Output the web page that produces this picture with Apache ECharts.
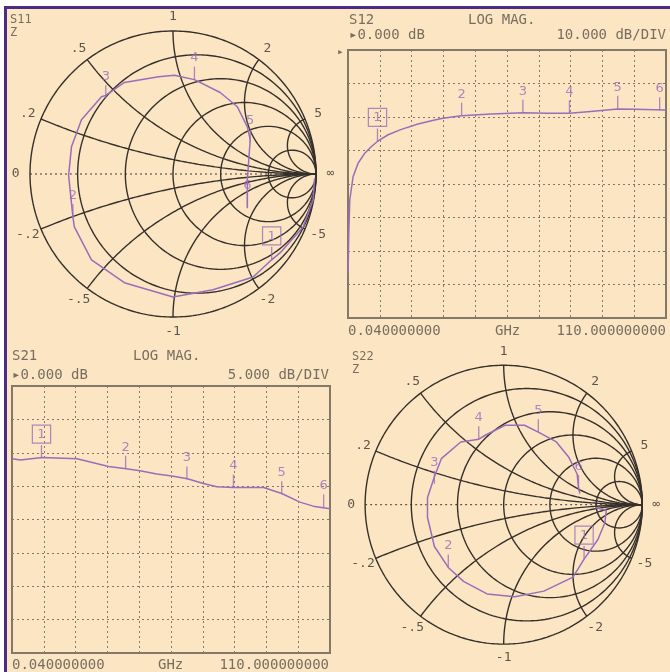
<!DOCTYPE html>
<html>
<head>
<meta charset="utf-8">
<script src="https://cdn.jsdelivr.net/npm/echarts@6/dist/echarts.min.js"></script>
<style>
html, body { margin: 0; padding: 0; background: #fff; }
#chart { width: 670px; height: 672px; }
</style>
</head>
<body>
<div id="chart"></div>
<script>
// sweep 0.04 - 110 GHz, six markers
var markerNames = ['1', '2', '3', '4', '5', '6'];
var markerFreq = [10.2, 39.3, 60.5, 76.6, 93.3, 107.8];

// S12 log mag, 10 dB/div, ref 0 dB at top line
var s12Freq = [0.04, 0.27, 0.62, 1.77, 3.49, 5.80, 8.10, 10.17, 13.86, 18.46, 24.22, 29.98, 32.86, 39.19, 49.55, 60.49, 69.13, 76.61, 82.94, 93.30, 99.06, 110];
var s12Db = [-66.6, -54.7, -44.7, -37.8, -33.8, -30.8, -28.8, -27.3, -25.3, -23.7, -22.1, -20.9, -20.4, -19.6, -19.1, -18.7, -18.9, -18.9, -18.4, -17.6, -17.7, -17.9];
var s12MarkDb = [-27.3, -19.6, -18.7, -18.9, -17.5, -18.0];

// S21 log mag, 5 dB/div, ref 0 dB at centre line
var s21Freq = [0.04, 2.9, 10.4, 22.5, 33.4, 39.5, 44.3, 50.1, 55.3, 60.7, 66.2, 70.8, 76.6, 87.0, 93.3, 99.6, 104.2, 110];
var s21Db = [9.1, 8.9, 9.3, 9.1, 7.95, 7.6, 7.3, 6.8, 6.5, 6.1, 5.4, 4.9, 4.8, 4.8, 3.9, 2.6, 2.0, 1.6];
var s21MarkDb = [9.2, 7.6, 6.0, 4.8, 3.8, 1.8];

var s11Re = [0.99, 0.98, 0.91, 0.75, 0.69, 0.56, 0.28, 0.00, -0.34, -0.57, -0.69, -0.70, -0.73, -0.71, -0.64, -0.50, -0.47, -0.34, -0.10, 0.01, 0.15, 0.33, 0.45, 0.52, 0.54, 0.53, 0.52, 0.52];
var s11Im = [-0.03, -0.18, -0.37, -0.55, -0.60, -0.72, -0.81, -0.86, -0.76, -0.60, -0.37, -0.30, -0.01, 0.19, 0.38, 0.54, 0.55, 0.64, 0.68, 0.69, 0.66, 0.57, 0.47, 0.33, 0.24, 0.10, -0.04, -0.24];
var s11MarkRe = [0.69, -0.70, -0.47, 0.15, 0.54, 0.52];
var s11MarkIm = [-0.60, -0.30, 0.53, 0.66, 0.22, -0.23];

var s22Re = [0.66, 0.74, 0.73, 0.68, 0.58, 0.50, 0.29, 0.08, -0.12, -0.29, -0.40, -0.50, -0.55, -0.55, -0.50, -0.45, -0.31, -0.18, -0.13, 0.01, 0.15, 0.25, 0.38, 0.47, 0.53, 0.54, 0.55];
var s22Im = [-0.02, -0.04, -0.13, -0.25, -0.39, -0.52, -0.62, -0.66, -0.64, -0.55, -0.45, -0.30, -0.09, 0.05, 0.20, 0.33, 0.45, 0.47, 0.50, 0.57, 0.57, 0.52, 0.45, 0.34, 0.22, 0.12, 0.08];
var s22MarkRe = [0.58, -0.40, -0.50, -0.18, 0.25, 0.54];
var s22MarkIm = [-0.39, -0.45, 0.15, 0.47, 0.52, 0.12];

// smith graticule: resistance circles, reactance arcs, labels
var smithR = [0, 0.2, 0.5, 1, 2, 5];
var smithX = [0, 0.2, 0.5, 1, 2, 5, -0.2, -0.5, -1, -2, -5];
var smithLabelX = [0, 0.2, 0.5, 1, 2, 5, -0.2, -0.5, -1, -2, -5];
var smithLabelText = ['0', '.2', '.5', '1', '2', '5', '-.2', '-.5', '-1', '-2', '-5'];

var BG = '#fce5c2';
var TRACE = '#9a6dbb';
var SMITH_LINE = '#35302b';
var GRID_LINE = '#857965';
var TEXT = '#786e60';
var MONO = '"DejaVu Sans Mono", monospace';

var myChart = echarts.init(document.getElementById('chart'));

function gamma(r, x) {
    var d = (r + 1) * (r + 1) + x * x;
    return [(r * r - 1 + x * x) / d, 2 * x / d];
}

function zip(a, b) {
    return a.map(function (v, i) { return [v, b[i]]; });
}

function gridLine(idx, pts, dotted) {
    return {
        type: 'line',
        xAxisIndex: idx, yAxisIndex: idx,
        data: pts,
        symbol: 'none',
        silent: true,
        z: 1,
        lineStyle: {color: SMITH_LINE, width: dotted ? 1 : 1.4, type: dotted ? [2, 3] : 'solid'}
    };
}

function smithSeries(idx) {
    var list = [];
    smithR.forEach(function (r) {
        var pts = [];
        for (var i = 0; i <= 360; i++) {
            var t = -Math.PI / 2 + Math.PI * i / 360;
            pts.push(gamma(r, (r + 1) * Math.tan(t)));
        }
        list.push(gridLine(idx, pts, false));
    });
    smithX.forEach(function (x) {
        var pts = [];
        for (var i = 0; i <= 300; i++) {
            pts.push(gamma(Math.tan(Math.PI / 2 * i / 300), x));
        }
        list.push(gridLine(idx, pts, x === 0));
    });
    // labels sit just outside the outer circle
    var labels = smithLabelX.map(function (x, i) {
        var g = gamma(0, x);
        return {value: [g[0] * 1.1, g[1] * 1.1], name: smithLabelText[i]};
    });
    labels.push({value: [1.1, 0], name: '∞'});
    list.push({
        type: 'scatter',
        xAxisIndex: idx, yAxisIndex: idx,
        data: labels,
        symbolSize: 0,
        silent: true,
        clip: false,
        label: {show: true, position: 'inside', formatter: '{b}', color: '#35312c', fontSize: 13, fontFamily: MONO}
    });
    return list;
}

function traceSeries(idx, pts) {
    return {
        type: 'line',
        xAxisIndex: idx, yAxisIndex: idx,
        data: pts,
        symbol: 'none',
        z: 3,
        lineStyle: {color: TRACE, width: 1.5}
    };
}

function markerSeries(idx, pts) {
    var data = pts.map(function (p, i) {
        var item = {value: p, name: markerNames[i]};
        if (i === 0) {
            item.label = {borderColor: TRACE, borderWidth: 1.2, padding: [3, 5, 2, 5]};
        }
        return item;
    });
    return {
        type: 'scatter',
        xAxisIndex: idx, yAxisIndex: idx,
        data: data,
        symbol: 'rect',
        symbolSize: [1.3, 13],
        symbolOffset: [0, '-50%'],
        itemStyle: {color: TRACE},
        clip: false,
        z: 4,
        label: {show: true, position: 'top', distance: 2, formatter: '{b}', color: TRACE, fontSize: 13, fontFamily: '"DejaVu Sans", sans-serif'}
    };
}

function smithAxis(idx) {
    return {gridIndex: idx, type: 'value', min: -1.2, max: 1.2, show: false};
}

function rectX(idx) {
    return {
        gridIndex: idx, type: 'value', min: 0, max: 110, interval: 11,
        axisLine: {show: false}, axisTick: {show: false}, axisLabel: {show: false},
        splitLine: {show: true, lineStyle: {color: GRID_LINE, width: 1, type: [2, 3]}}
    };
}

function rectY(idx, min, max, step) {
    return {
        gridIndex: idx, type: 'value', min: min, max: max, interval: step,
        axisLine: {show: false}, axisTick: {show: false}, axisLabel: {show: false},
        splitLine: {show: true, lineStyle: {color: GRID_LINE, width: 1, type: [2, 3]}}
    };
}

function txt(str, x, y, align, size, color) {
    return {
        type: 'text', x: x, y: y, silent: true,
        style: {text: str, fill: color || TEXT, font: (size || 14) + 'px ' + MONO, textAlign: align || 'left', textVerticalAlign: 'middle'}
    };
}

var series = [];
series = series.concat(smithSeries(0));
series = series.concat(smithSeries(3));
series.push(traceSeries(0, zip(s11Re, s11Im)));
series.push(markerSeries(0, zip(s11MarkRe, s11MarkIm)));
series.push(traceSeries(3, zip(s22Re, s22Im)));
series.push(markerSeries(3, zip(s22MarkRe, s22MarkIm)));
series.push(traceSeries(1, zip(s12Freq, s12Db)));
series.push(markerSeries(1, zip(markerFreq, s12MarkDb)));
series.push(traceSeries(2, zip(s21Freq, s21Db)));
series.push(markerSeries(2, zip(markerFreq, s21MarkDb)));

var option = {
    backgroundColor: BG,
    animation: false,
    grid: [
        {left: 1.4, top: 2.4, width: 343.2, height: 343.2},
        {left: 348, top: 50, width: 318, height: 268, show: true, borderColor: '#847967', borderWidth: 2},
        {left: 12, top: 386, width: 318, height: 267, show: true, borderColor: '#847967', borderWidth: 2},
        {left: 337.4, top: 337.4, width: 343.2, height: 343.2}
    ],
    xAxis: [smithAxis(0), rectX(1), rectX(2), smithAxis(3)],
    yAxis: [smithAxis(0), rectY(1, -80, 0, 10), rectY(2, -20, 20, 5), smithAxis(3)],
    series: series,
    graphic: [
        {type: 'rect', shape: {x: 0, y: 0, width: 670, height: 6}, style: {fill: '#fff'}, silent: true},
        {type: 'rect', shape: {x: 0, y: 0, width: 4, height: 672}, style: {fill: '#fff'}, silent: true},
        {type: 'rect', shape: {x: 4, y: 6, width: 666, height: 3}, style: {fill: '#4b2d82'}, silent: true},
        {type: 'rect', shape: {x: 4, y: 6, width: 3, height: 666}, style: {fill: '#4b2d82'}, silent: true},
        txt('S11', 10, 20, 'left', 12), txt('Z', 10, 33, 'left', 12),
        txt('S22', 352, 357, 'left', 12), txt('Z', 352, 370, 'left', 12),
        txt('S12', 349, 20), txt('LOG MAG.', 468, 20), txt('▸0.000 dB', 349, 35),
        txt('10.000 dB/DIV', 666, 35, 'right'), txt('▸', 337, 52, 'left', 11),
        txt('0.040000000', 348, 331), txt('GHz', 495, 331), txt('110.000000000', 666, 331, 'right'),
        txt('S21', 12, 356), txt('LOG MAG.', 133, 356), txt('▸0.000 dB', 12, 375),
        txt('5.000 dB/DIV', 329, 375, 'right'),
        txt('0.040000000', 12, 665), txt('GHz', 158, 665), txt('110.000000000', 329, 665, 'right')
    ]
};

myChart.setOption(option);
</script>
</body>
</html>
